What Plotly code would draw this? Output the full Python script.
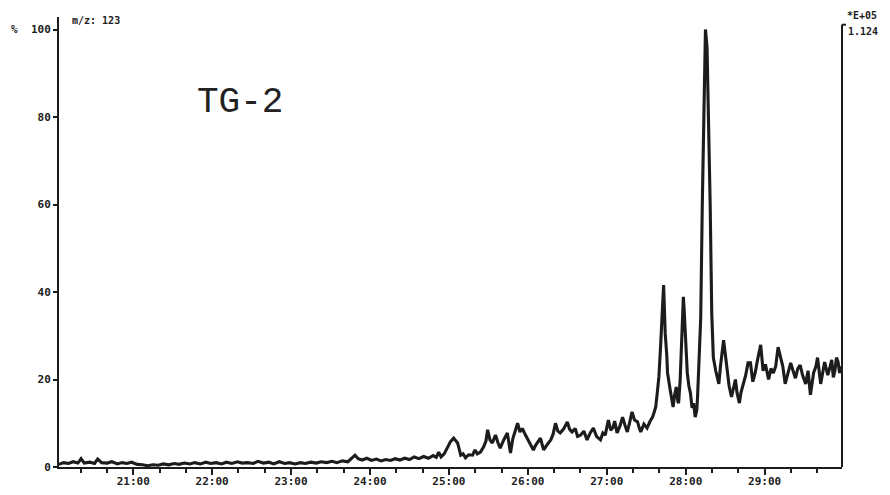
import plotly.graph_objects as go

# Retention time (minutes) and relative intensity (%), m/z 123
time_min = [
    20.06, 20.12, 20.18, 20.24, 20.30, 20.34, 20.38, 20.45, 20.51, 20.55, 20.60, 20.67, 20.73, 20.80,
    20.86, 20.92, 20.98, 21.05, 21.12, 21.18, 21.25, 21.32, 21.38, 21.45, 21.52, 21.58, 21.65, 21.72,
    21.78, 21.85, 21.92, 21.98, 22.05, 22.12, 22.18, 22.25, 22.32, 22.38, 22.45, 22.52, 22.58, 22.65,
    22.72, 22.78, 22.85, 22.92, 22.98, 23.05, 23.12, 23.18, 23.25, 23.32, 23.38, 23.45, 23.52, 23.58,
    23.65, 23.72, 23.78, 23.81, 23.85, 23.90, 23.96, 24.02, 24.08, 24.14, 24.20, 24.26, 24.32, 24.38,
    24.44, 24.50, 24.56, 24.62, 24.68, 24.74, 24.80, 24.84, 24.87, 24.90,
    24.94, 24.98, 25.02, 25.06, 25.09, 25.11, 25.15, 25.18, 25.21, 25.25, 25.30, 25.33, 25.36, 25.40,
    25.44, 25.47, 25.49, 25.52, 25.55, 25.59, 25.62, 25.65, 25.69, 25.74, 25.76, 25.78, 25.81, 25.84,
    25.87, 25.90, 25.93, 25.97, 26.00, 26.03, 26.07, 26.10, 26.12, 26.16, 26.18, 26.20, 26.24, 26.29,
    26.32, 26.35, 26.38, 26.41, 26.45, 26.50, 26.53, 26.56, 26.60, 26.63, 26.67, 26.71, 26.75, 26.79,
    26.83, 26.87, 26.92, 26.95, 26.98, 27.02, 27.05, 27.08, 27.10, 27.13, 27.17, 27.20, 27.23, 27.26,
    27.29, 27.32, 27.35, 27.39, 27.41, 27.43, 27.47, 27.51, 27.55, 27.58, 27.60, 27.62, 27.64, 27.66,
    27.68, 27.69, 27.71, 27.72, 27.73, 27.74, 27.76, 27.77, 27.80, 27.82, 27.84, 27.86, 27.88, 27.90,
    27.91, 27.93, 27.95, 27.96, 27.97, 27.98, 28.00, 28.02, 28.04, 28.06, 28.08, 28.10, 28.12, 28.14,
    28.15, 28.17, 28.19, 28.21, 28.23, 28.25, 28.27, 28.29, 28.31, 28.33, 28.35, 28.38, 28.40, 28.42,
    28.44, 28.46, 28.48, 28.50, 28.53, 28.55, 28.58, 28.60, 28.63, 28.65, 28.68, 28.70, 28.73, 28.76,
    28.79, 28.82, 28.85, 28.88, 28.91, 28.95, 28.98, 29.01, 29.05, 29.08, 29.11, 29.14, 29.17, 29.20,
    29.23, 29.26, 29.29, 29.33, 29.36, 29.39, 29.42, 29.45, 29.48, 29.52, 29.55, 29.58, 29.60, 29.62,
    29.65, 29.67, 29.69, 29.71, 29.74, 29.76, 29.78, 29.80, 29.83, 29.85, 29.87, 29.89, 29.91, 29.93,
    29.95, 29.97,
]
intensity_pct = [
    0.6, 1.0, 0.8, 1.2, 0.9, 1.9, 0.9, 1.1, 0.8, 1.8, 1.0, 0.9, 1.2, 0.7,
    1.0, 0.8, 1.1, 0.6, 0.5, 0.3, 0.5, 0.4, 0.7, 0.5, 0.8, 0.6, 0.9, 0.7,
    1.0, 0.7, 1.1, 0.8, 1.0, 0.7, 1.1, 0.8, 1.2, 0.9, 1.0, 0.8, 1.3, 0.9,
    1.1, 0.7, 1.2, 0.8, 1.0, 0.7, 1.0, 0.8, 1.1, 0.9, 1.2, 1.0, 1.3, 1.0,
    1.4, 1.2, 2.2, 2.7, 1.9, 1.6, 2.0, 1.5, 1.8, 1.4, 1.7, 1.5, 1.9, 1.6,
    2.0, 1.7, 2.3, 1.9, 2.4, 2.0, 2.6, 2.2, 3.4, 2.3,
    3.0, 4.6, 5.8, 6.6, 6.0, 5.5, 2.7, 3.0, 2.1, 2.8, 2.7, 3.9, 3.0, 3.4,
    4.6, 6.0, 8.5, 6.2, 5.5, 7.3, 5.6, 4.3, 6.0, 7.8, 5.5, 3.2, 6.5, 8.0,
    10.0, 8.0, 8.8, 7.3, 6.2, 5.0, 3.9, 5.0, 5.5, 6.6, 5.2, 3.9, 5.0, 6.2,
    7.5, 10.0, 8.2, 7.8, 8.6, 10.3, 8.6, 8.0, 8.8, 7.0, 7.3, 8.2, 6.2, 7.8,
    8.9, 7.0, 6.2, 7.8, 7.3, 10.7, 8.4, 9.1, 10.5, 7.8, 9.5, 11.4, 9.6, 8.0,
    10.2, 12.6, 10.8, 10.3, 9.0, 8.0, 9.8, 8.9, 10.5, 11.4, 12.5, 13.7, 17.0, 20.6,
    27.0, 32.0, 38.0, 41.6, 36.0, 30.6, 25.5, 21.5, 18.0, 16.0, 13.7, 16.5, 18.3, 15.0,
    14.6, 20.0, 28.3, 35.0, 38.9, 36.0, 29.7, 21.5, 18.5, 16.9, 13.5, 14.6, 11.4, 13.0,
    16.0, 24.0, 34.0, 60.0, 82.0, 100.0, 96.0, 80.0, 60.0, 35.0, 25.0, 22.0, 20.6, 19.0,
    23.0, 25.5, 29.0, 26.0, 22.0, 18.5, 16.0, 17.5, 20.0, 17.0, 14.6, 17.0, 19.0, 21.0,
    23.8, 23.8, 19.5, 21.5, 24.5, 27.9, 22.0, 23.5, 20.0, 22.5, 21.5, 23.0, 27.4, 25.0,
    23.0, 19.0, 21.0, 23.8, 22.0, 20.3, 22.5, 23.3, 21.0, 19.0, 22.0, 16.5, 19.0, 21.5,
    23.0, 25.0, 22.0, 19.0, 22.0, 24.0, 22.5, 21.0, 23.0, 24.5, 20.5, 22.0, 25.0, 24.0,
    21.5, 23.0,
]

x_tick_vals = [21, 22, 23, 24, 25, 26, 27, 28, 29]
x_tick_text = ["21:00", "22:00", "23:00", "24:00", "25:00", "26:00", "27:00", "28:00", "29:00"]
y_tick_vals = [0, 20, 40, 60, 80, 100]
y_tick_text = ["0", "20", "40", "60", "80", "%  100"]

INK = "#1c1c1c"
MONO = "DejaVu Sans Mono"

fig = go.Figure()
fig.add_trace(go.Scatter(
    x=time_min, y=intensity_pct, mode="lines",
    line=dict(color=INK, width=3.1), hoverinfo="skip", showlegend=False,
))

fig.update_layout(
    width=890, height=495,
    margin=dict(l=59, r=48, t=17, b=28, autoexpand=False),
    paper_bgcolor="white", plot_bgcolor="white",
    showlegend=False,
    xaxis=dict(
        range=[20.06, 29.98], showgrid=False, zeroline=False, automargin=False,
        showline=True, linecolor=INK, linewidth=2,
        tickvals=x_tick_vals, ticktext=x_tick_text,
        ticks="outside", ticklen=6, tickwidth=2, tickcolor=INK, ticklabelstandoff=-3,
        tickfont=dict(family=MONO, size=11, color=INK, weight="bold"),
        minor=dict(dtick=1/3, tick0=20, ticks="outside", ticklen=4, tickwidth=1.5, tickcolor=INK),
    ),
    yaxis=dict(
        range=[0, 102.86], showgrid=False, zeroline=False, automargin=False,
        showline=True, linecolor=INK, linewidth=2,
        tickvals=y_tick_vals, ticktext=y_tick_text,
        ticks="outside", ticklen=4, tickwidth=2, tickcolor=INK,
        tickfont=dict(family=MONO, size=11, color=INK, weight="bold"),
    ),
)

# right-hand frame line with small hook at top
fig.add_shape(type="line", xref="paper", yref="y", x0=1, x1=1, y0=0, y1=101.1,
              line=dict(color=INK, width=2))
fig.add_shape(type="line", xref="paper", yref="y", x0=1, x1=1.005, y0=101.1, y1=101.1,
              line=dict(color=INK, width=2))

fig.add_annotation(xref="paper", yref="paper", x=0.014, y=0.993, xanchor="left", yanchor="middle",
                   text="m/z: 123", showarrow=False,
                   font=dict(family=MONO, size=10, color=INK, weight="bold"))
fig.add_annotation(xref="paper", yref="paper", x=1.004, y=1.003, xanchor="left", yanchor="middle",
                   text="*E+05", showarrow=False,
                   font=dict(family=MONO, size=10, color=INK, weight="bold"))
fig.add_annotation(xref="paper", yref="paper", x=1.005, y=0.967, xanchor="left", yanchor="middle",
                   text="1.124", showarrow=False,
                   font=dict(family=MONO, size=10, color=INK, weight="bold"))
fig.add_annotation(xref="paper", yref="paper", x=0.231, y=0.811, xanchor="center", yanchor="middle",
                   text="TG-2", showarrow=False,
                   font=dict(family="Liberation Mono", size=36, color="#222222"))

fig.write_html(
    "out.html",
    config={"displayModeBar": False},
    post_script="document.body.style.margin='0';document.body.style.overflow='hidden';",
)
